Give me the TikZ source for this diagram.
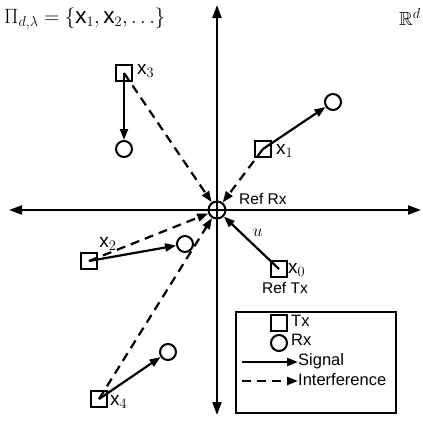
\documentclass[tikz,border=0pt]{standalone}
\usepackage{amssymb}
\usepackage{fontspec}
\setmainfont{Liberation Sans}
\setsansfont{Liberation Sans}
\usetikzlibrary{arrows.meta}
\begin{document}
\begin{tikzpicture}[x=1pt,y=-1pt,
  tx/.style={draw,line width=2pt,minimum size=16pt,inner sep=0pt,rectangle},
  rx/.style={draw,line width=2pt,minimum size=16pt,inner sep=0pt,circle},
  lbl/.style={font=\fontsize{15.5}{16}\selectfont,inner sep=1pt},
  xlbl/.style={font=\fontsize{19}{19}\selectfont,inner sep=0pt},
  leglbl/.style={font=\fontsize{16.5}{17}\selectfont,inner sep=1pt},
  sig/.style={line width=2.2pt,-{Triangle[length=11pt,width=8pt]}},
  intf/.style={line width=2.2pt,dash pattern=on 9pt off 6pt,-{Triangle[length=11pt,width=8pt]}},
  axis/.style={line width=2.2pt,{Triangle[length=13pt,width=9pt]}-{Triangle[length=13pt,width=9pt]}}]
\useasboundingbox (0,0) rectangle (423,421);
% axes
\coordinate (axl) at (9,210);
\coordinate (axr) at (421,210);
\coordinate (axt) at (217,5);
\coordinate (axb) at (217,415);
\draw[axis] (axl) -- (axr);
\draw[axis] (axt) -- (axb);
% reference receiver
\node[rx,minimum size=17pt] (rrx) at (217,210) {};
% transmitters
\node[tx] (x3) at (124,73) {};
\node[tx] (x1) at (263,149) {};
\node[tx] (x0) at (279,269) {};
\node[tx] (x2) at (89,261) {};
\node[tx] (x4) at (99,399) {};
% receivers
\node[rx] (r3) at (124,149) {};
\node[rx] (r1) at (333,102) {};
\node[rx] (r2) at (185,244) {};
\node[rx] (r4) at (168,352) {};
% interference
\draw[intf] (x3.center) -- (rrx);
\draw[intf] (x1.center) -- (rrx);
\draw[intf] (x2.center) -- (rrx);
\draw[intf] (x4.center) -- (rrx);
% signals
\draw[sig] (x3.center) -- (r3);
\draw[sig] (x1.center) -- (r1);
\draw[sig] (x2.center) -- (r2);
\draw[sig] (x4.center) -- (r4);
\draw[sig] (x0.center) -- node[pos=0.55,above right,inner sep=3pt]{\fontsize{18}{18}\selectfont$u$} (rrx);
% labels
\node[xlbl,anchor=west] (lx3) at (137,71) {x$_3$};
\node[xlbl,anchor=west] (lx1) at (276,151) {x$_1$};
\node[xlbl,anchor=west] (lx0) at (288,270) {x$_0$};
\node[xlbl] (lx2) at (108,244) {x$_2$};
\node[xlbl,anchor=west] (lx4) at (110,402) {x$_4$};
\node[lbl,anchor=west] (lrrx) at (238,199) {Ref Rx};
\node[lbl] (lrtx) at (285,288) {Ref Tx};
\node[anchor=west,inner sep=0pt] (title) at (4,19) {\fontsize{22.5}{23}\selectfont$\Pi_{d,\lambda}=\{\mathsf{x}_1,\mathsf{x}_2,\ldots\}$};
\node (rd) at (410,17) {\fontsize{19}{20}\selectfont$\mathbb{R}^d$};
% legend
\node[draw,line width=1.2pt,minimum width=160pt,minimum height=101pt,inner sep=0pt] (leg) at (316,362.5) {};
\node[tx] (ltx) at (279,323) {};
\node[leglbl,anchor=west] (ltxt) at (290,321) {Tx};
\node[rx] (lrx) at (279,343) {};
\node[leglbl,anchor=west] (lrxt) at (290,340) {Rx};
\coordinate (ls1) at (242,362);
\coordinate (ls2) at (298,362);
\draw[sig] (ls1) -- (ls2);
\node[leglbl,anchor=west] (lsig) at (297,361) {Signal};
\coordinate (li1) at (242,381);
\coordinate (li2) at (298,381);
\draw[intf] (li1) -- (li2);
\node[leglbl,anchor=west] (lint) at (297,380) {Interference};
\end{tikzpicture}
\end{document}
